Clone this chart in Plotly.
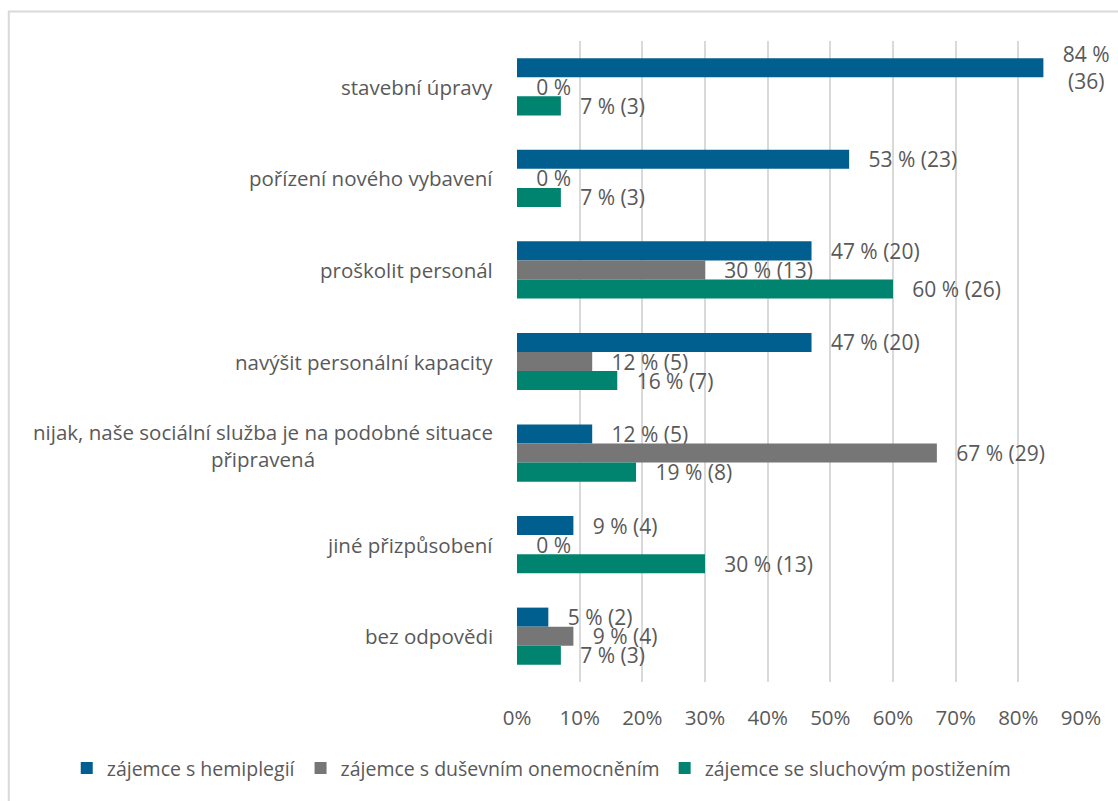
import plotly.graph_objects as go

# Categories (top to bottom)
categories = [
    "stavební úpravy",
    "pořízení nového vybavení",
    "proškolit personál",
    "navýšit personální kapacity",
    "nijak, naše sociální služba je na podobné situace<br>připravená",
    "jiné přizpůsobení",
    "bez odpovědi",
]

series_names = [
    "zájemce s hemiplegií",
    "zájemce s duševním onemocněním",
    "zájemce se sluchovým postižením",
]

# Share of respondents (%) and absolute counts per series
hemi_pct = [84, 53, 47, 47, 12, 9, 5]
hemi_cnt = [36, 23, 20, 20, 5, 4, 2]
dus_pct = [0, 0, 30, 12, 67, 0, 9]
dus_cnt = [0, 0, 13, 5, 29, 0, 4]
sluch_pct = [7, 7, 60, 16, 19, 30, 7]
sluch_cnt = [3, 3, 26, 7, 8, 13, 3]

x_ticks = [0, 10, 20, 30, 40, 50, 60, 70, 80, 90]

colors = ["#005F8F", "#767676", "#00836F"]
text_color = "#595959"
FONT = "Open Sans"
FS_BAR = 21
FS_CAT = 20.5
FS_TICK = 20.5
FS_LEG = 19.5
PAD = "\u00a0" * 3

# plot-area geometry in pixels
L, R, T, B = 516.5, 1080.8, 40.5, 681.7
W, H = R - L, B - T


def make_labels(pcts, cnts):
    out = []
    for p, c in zip(pcts, cnts):
        if p == 0:
            out.append(PAD + "0 %")
        elif p >= 80:
            out.append(PAD + f"{p} %<br>" + PAD + f"({c})")
        else:
            out.append(PAD + f"{p} % ({c})")
    return out


fig = go.Figure()
for name, pcts, cnts, col in zip(
    series_names,
    [hemi_pct, dus_pct, sluch_pct],
    [hemi_cnt, dus_cnt, sluch_cnt],
    colors,
):
    fig.add_trace(
        go.Bar(
            y=categories,
            x=pcts,
            orientation="h",
            name=name,
            marker=dict(color=col, line=dict(width=0)),
            text=make_labels(pcts, cnts),
            textposition="outside",
            constraintext="none",
            cliponaxis=False,
            textfont=dict(family=FONT, size=FS_BAR, color=text_color),
            hoverinfo="skip",
        )
    )

# Category labels, centred multi-line blocks right of the axis
for cat in categories:
    fig.add_annotation(
        x=0, xref="paper", y=cat, yref="y",
        text=cat, showarrow=False,
        xanchor="right", yanchor="middle", align="center",
        xshift=-22,
        yshift=8 if "<br>" in cat else 0,
        font=dict(family=FONT, size=FS_CAT, color=text_color),
    )

# Chart frame (only left and top edges fall inside the page)
fig.add_shape(
    type="rect", xref="paper", yref="paper",
    x0=(8 - L) / W, x1=1.3,
    y0=-0.5, y1=(B - 11) / H,
    line=dict(color="#D9D9D9", width=2),
    fillcolor="rgba(0,0,0,0)",
    layer="below",
)

fig.update_layout(
    width=1118,
    height=801,
    margin=dict(l=L, r=1118 - R, t=T, b=801 - B),
    paper_bgcolor="white",
    plot_bgcolor="white",
    barmode="group",
    bargap=0.375,
    bargroupgap=0,
    font=dict(family=FONT, size=FS_CAT, color=text_color),
    showlegend=True,
    legend=dict(
        orientation="h",
        xref="paper", yref="paper",
        x=(66 - L) / W, xanchor="left",
        y=(B - 768) / H, yanchor="middle",
        font=dict(family=FONT, size=FS_LEG, color=text_color),
        traceorder="normal",
        bgcolor="rgba(0,0,0,0)",
    ),
    xaxis=dict(
        range=[0, 90],
        tickvals=x_ticks,
        ticktext=[f"{v}%" for v in x_ticks],
        showgrid=True,
        gridcolor="#D9D9D9",
        gridwidth=1.5,
        zeroline=False,
        showline=False,
        ticks="",
        ticklabelstandoff=21,
        tickfont=dict(family=FONT, size=FS_TICK, color=text_color),
        fixedrange=True,
    ),
    yaxis=dict(
        categoryorder="array",
        categoryarray=categories,
        autorange="reversed",
        showticklabels=False,
        showgrid=False,
        zeroline=False,
        showline=False,
        ticks="",
        fixedrange=True,
    ),
)

fig.write_html("out.html")
